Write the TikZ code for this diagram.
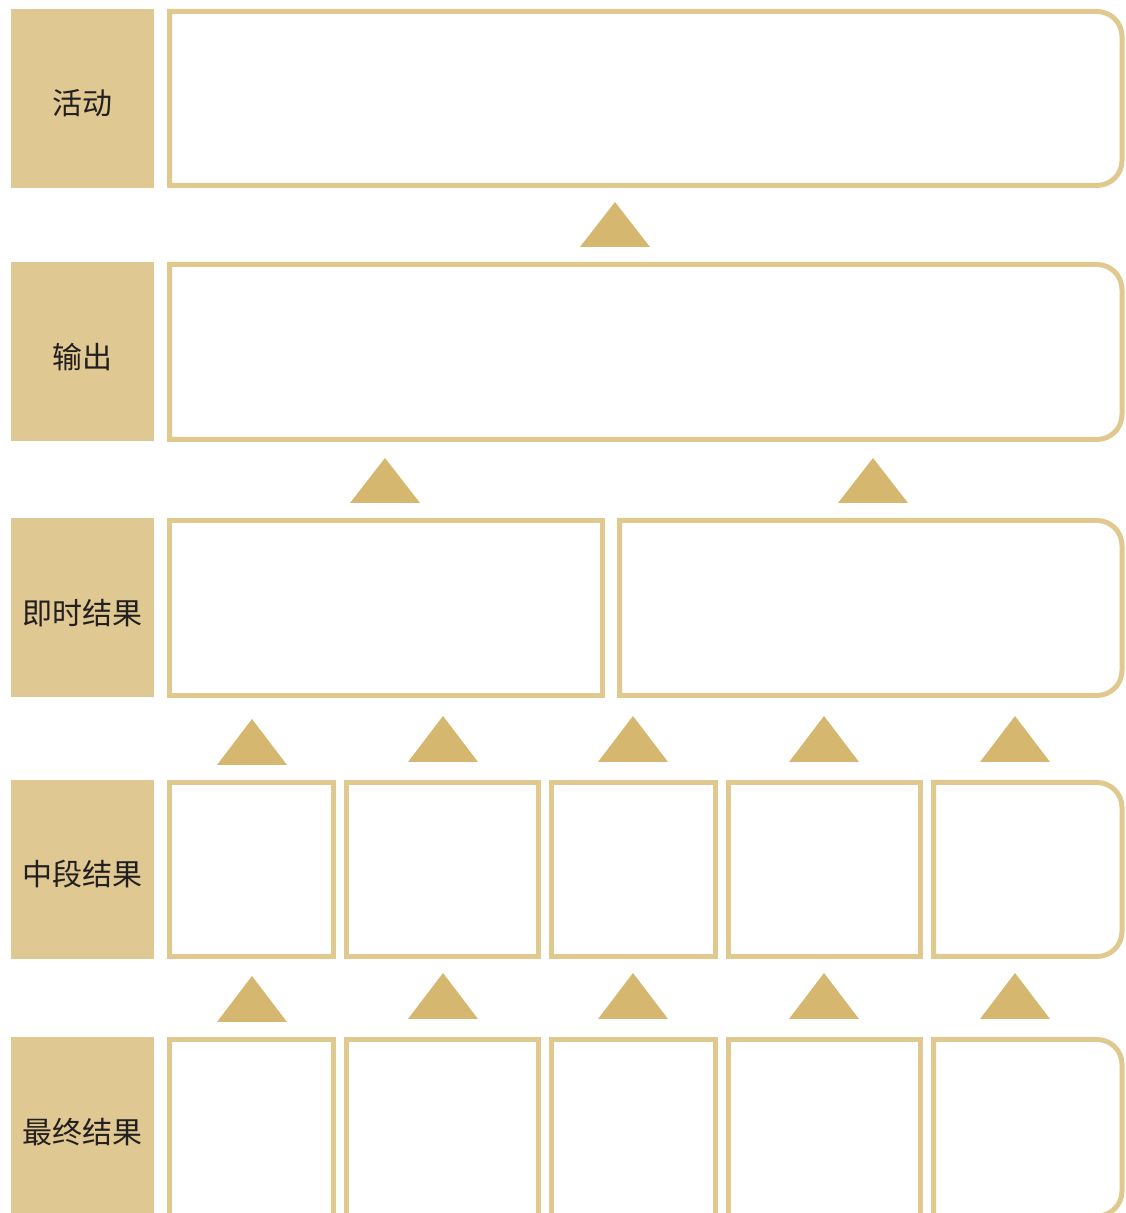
\documentclass[tikz,border=0pt]{standalone}
\usepackage{fontspec}
\newfontfamily\cjk{Noto Sans CJK SC}
\usepackage{tikz}
\definecolor{TagFill}{RGB}{223, 200, 145}
\definecolor{Frame}{RGB}{224, 201, 143}
\definecolor{Marker}{RGB}{213, 183, 112}
\definecolor{Ink}{RGB}{35, 31, 32}

\begin{document}
\begin{tikzpicture}[x=1pt, y=1pt,
    tag/.style={fill=TagFill, text=Ink, inner sep=0pt, minimum width=143pt,
        minimum height=179pt, font=\cjk\fontsize{30}{34}\selectfont},
    frame/.style={draw=Frame, line width=5pt},
    marker/.style={fill=Marker, draw=none}]
    %%Background
    \useasboundingbox (0,0) rectangle (1125,1213);

    %% Row tags
    \node[tag] (act) at (82.5,1114.5) {\raisebox{-5pt}[\height][\depth]{活动}};
    \node[tag] (out) at (82.5,861) {\raisebox{-5pt}[\height][\depth]{输出}};
    \node[tag] (imm) at (82.5,605) {\raisebox{-5pt}[\height][\depth]{即时结果}};
    \node[tag] (mid) at (82.5,343.5) {\raisebox{-5pt}[\height][\depth]{中段结果}};
    \node[tag, minimum height=180pt] (fin) at (82.5,86) {\raisebox{-5pt}[\height][\depth]{最终结果}};

    %% Activities
    \draw[frame] (169.5,1201.5) -- (1097,1201.5)
    arc[start angle=90, end angle=0, radius=25] -- (1122,1052.5)
    arc[start angle=0, end angle=-90, radius=25] -- (169.5,1027.5) -- cycle;

    %% Outputs
    \draw[frame] (169.5,948.5) -- (1097,948.5)
    arc[start angle=90, end angle=0, radius=25] -- (1122,798.5)
    arc[start angle=0, end angle=-90, radius=25] -- (169.5,773.5) -- cycle;

    %% Immediate outcomes
    \draw[frame] (169.5,517.5) rectangle (602.5,692.5);
    \draw[frame] (619.5,692.5) -- (1097,692.5)
    arc[start angle=90, end angle=0, radius=25] -- (1122,542.5)
    arc[start angle=0, end angle=-90, radius=25] -- (619.5,517.5) -- cycle;

    %% Intermediate outcomes
    \draw[frame]
    (169.5,256.5) rectangle (333.5,430.5)
    (346.5,256.5) rectangle (538.5,430.5)
    (551.5,256.5) rectangle (715.5,430.5)
    (728.5,256.5) rectangle (920.5,430.5)
    ;
    \draw[frame] (933.5,430.5) -- (1097,430.5)
    arc[start angle=90, end angle=0, radius=25] -- (1122,281.5)
    arc[start angle=0, end angle=-90, radius=25] -- (933.5,256.5) -- cycle;

    %% Final outcomes
    \draw[frame]
    (169.5,-3) rectangle (333.5,173.5)
    (346.5,-3) rectangle (538.5,173.5)
    (551.5,-3) rectangle (715.5,173.5)
    (728.5,-3) rectangle (920.5,173.5)
    ;
    \draw[frame] (933.5,173.5) -- (1097,173.5)
    arc[start angle=90, end angle=0, radius=25] -- (1122,22)
    arc[start angle=0, end angle=-90, radius=25] -- (933.5,-3) -- cycle;

    %% Markers
    \fill[marker] (580,966) -- (650,966) -- (615,1011) -- cycle;

    \fill[marker]
    (350,710) -- (420,710) -- (385,755) -- cycle
    (838,710) -- (908,710) -- (873,755) -- cycle
    ;

    \fill[marker]
    (217,448) -- (287,448) -- (252,494) -- cycle
    (408,451) -- (478,451) -- (443,497) -- cycle
    (598,451) -- (668,451) -- (633,497) -- cycle
    (789,451) -- (859,451) -- (824,497) -- cycle
    (980,451) -- (1050,451) -- (1015,497) -- cycle
    ;

    \fill[marker]
    (217,191) -- (287,191) -- (252,237) -- cycle
    (408,194) -- (478,194) -- (443,240) -- cycle
    (598,194) -- (668,194) -- (633,240) -- cycle
    (789,194) -- (859,194) -- (824,240) -- cycle
    (980,194) -- (1050,194) -- (1015,240) -- cycle
    ;

\end{tikzpicture}
\end{document}
